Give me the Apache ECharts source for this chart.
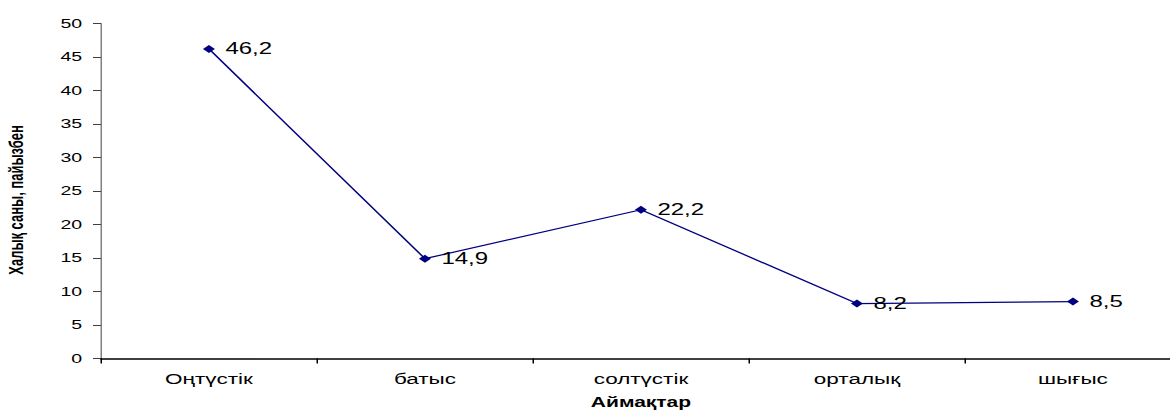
<!DOCTYPE html>
<html>
<head>
<meta charset="utf-8">
<script src="https://cdn.jsdelivr.net/npm/echarts@6/dist/echarts.min.js"></script>
<style>
  html, body { margin: 0; padding: 0; background: #fff; overflow: hidden; }
  #wrap { width: 1170px; height: 411px; overflow: hidden; }
  /* the chart is laid out narrow and widened to the page width */
  #chart { width: 780px; height: 411px; transform: scaleX(1.5); transform-origin: 0 0; }
</style>
</head>
<body>
<div id="wrap"><div id="chart"></div></div>
<script>
// Population share by region, percent
const regions = ['Оңтүстік', 'батыс', 'солтүстік', 'орталық', 'шығыс'];
const shares = [46.2, 14.9, 22.2, 8.2, 8.5];
const yTicks = [0, 5, 10, 15, 20, 25, 30, 35, 40, 45, 50];

const xTitle = 'Аймақтар';
const yTitle = 'Халық саны, пайызбен';

const font = '"Liberation Sans", Arial, sans-serif';

const chart = echarts.init(document.getElementById('chart'), null, { renderer: 'svg' });
chart.setOption({
  animation: false,
  backgroundColor: '#ffffff',
  grid: { left: 67.3, right: -7.3, top: 23.5, bottom: 52.5, containLabel: false, outerBoundsMode: 'none' },
  xAxis: {
    type: 'category',
    data: regions,
    boundaryGap: true,
    name: xTitle,
    nameLocation: 'middle',
    nameGap: 37,
    nameTextStyle: { fontFamily: font, fontSize: 14, fontWeight: 'bold', color: '#000' },
    axisLine: { lineStyle: { color: '#000', width: 1.5 } },
    axisTick: { show: true, alignWithLabel: false, length: 5, lineStyle: { color: '#000' } },
    axisLabel: { fontFamily: font, fontSize: 15, color: '#000', margin: 13 },
    splitLine: { show: false }
  },
  yAxis: {
    type: 'value',
    min: yTicks[0],
    max: yTicks[yTicks.length - 1],
    interval: yTicks[1] - yTicks[0],
    name: yTitle,
    nameLocation: 'middle',
    nameGap: 50,
    nameRotate: 90,
    nameTextStyle: { fontFamily: font, fontSize: 13, fontWeight: 'bold', color: '#000', padding: [0, 18, 0, 0] },
    axisLine: { show: true, lineStyle: { color: '#808080', width: 1 } },
    axisTick: { show: true, inside: false, length: 5.3, lineStyle: { color: '#404040' } },
    axisLabel: { fontFamily: font, fontSize: 13, color: '#000', margin: 12.5 },
    splitLine: { show: false }
  },
  series: [{
    type: 'line',
    data: shares,
    symbol: 'diamond',
    symbolSize: 8,
    showAllSymbol: true,
    lineStyle: { color: '#000080', width: 1.2 },
    itemStyle: { color: '#000080' },
    label: {
      show: true,
      position: 'right',
      distance: 7,
      fontFamily: font,
      fontSize: 16,
      color: '#000',
      formatter: p => String(p.value).replace('.', ',')
    }
  }]
});
</script>
</body>
</html>
